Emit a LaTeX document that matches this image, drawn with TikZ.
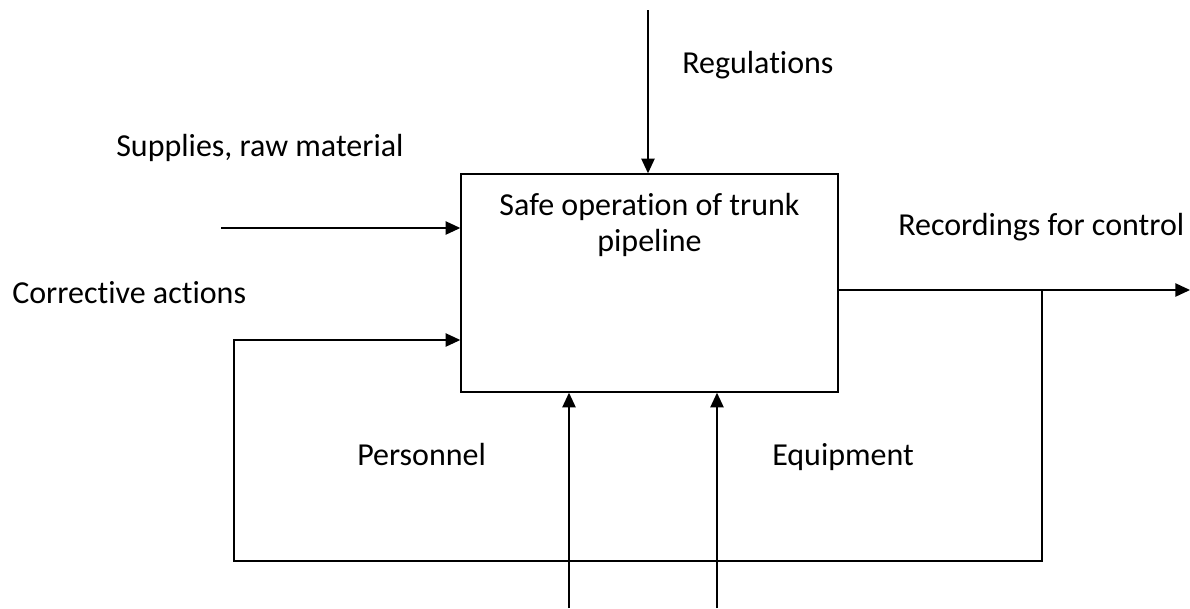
\documentclass[tikz,border=0pt]{standalone}
\usepackage{fontspec}
\setmainfont{Carlito}[Ligatures=NoCommon]
\usepackage{tikz}
\usetikzlibrary{arrows.meta,positioning,calc}

\tikzset{flow/.style={-{Triangle[length=11pt,width=10pt]},line width=1.1pt}}

\begin{document}
\begin{tikzpicture}[x=0.75pt,y=-0.75pt, every node/.style={font=\fontsize{24}{27}\selectfont,inner sep=0}]
\useasboundingbox (0,0) rectangle (1190,608);

\node[draw,rectangle,line width=1.1pt,minimum width=282.75pt,minimum height=163.5pt] (main) at (649.5,283) {};
\node[below=15pt of main.north,align=center] (title) {Safe operation of trunk\\pipeline};

% labels
\node[anchor=base west] (reg) at (682,73) {Regulations};
\node[anchor=base west] (sup) at (116,156) {Supplies, raw material};
\node[anchor=base west] (corr) at (12,303) {Corrective actions};
\node[anchor=base west] (rec) at (898,235) {Recordings for control};
\node[anchor=base west] (pers) at (357,465) {Personnel};
\node[anchor=base west] (equip) at (772,465) {Equipment};

% free ends
\coordinate (regtop) at (648,10);
\coordinate (supin) at (221,228);
\coordinate (outend) at (1190,290);
\coordinate (tap) at (1042,290);
\coordinate (loop) at (234,561);
\coordinate (back) at (234,340);
\coordinate (persin) at (569,608);
\coordinate (equipin) at (717,608);

\draw[flow] (regtop) -- (regtop |- main.north);
\draw[flow] (supin) -- (supin -| main.west);
\draw[flow] (outend -| main.east) -- (outend);
\draw[flow] (tap) |- (loop) -- (back) -- (back -| main.west);
\draw[flow] (persin) -- (persin |- main.south);
\draw[flow] (equipin) -- (equipin |- main.south);
\end{tikzpicture}
\end{document}
